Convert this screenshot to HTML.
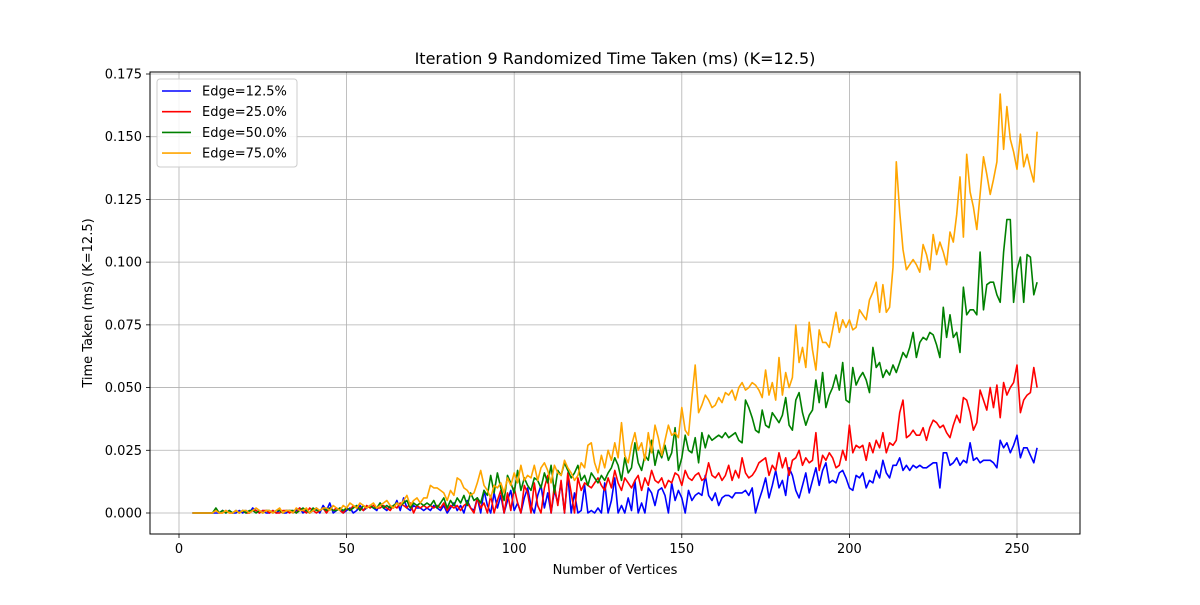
<!DOCTYPE html>
<html><head><meta charset="utf-8"><style>
body{margin:0;background:#fff;}
svg text{font-family:"DejaVu Sans","Liberation Sans",sans-serif;fill:#000;}
</style></head><body>
<svg id="chart" width="1200" height="600" xmlns="http://www.w3.org/2000/svg">
<rect width="1200" height="600" fill="#fff"/>
<g id="grid"></g><g id="series"></g><g id="axes"></g><g id="legend"></g>
</svg>
<script>
const xStart = 4;
const blue = [0,0,0,0,0,0,0,0,0,1, 0,1,0,0,1,0,1,0,2,1, 0,1,0,0,1,0,1,0,0,1, 0,1,2,0,1,0,1,2,0,3, 1,4,0,1,2,0,1,2,0,1, 3,1,2,3,2,1,4,2,1,3, 2,5,1,6,2,1,3,2,2,1, 2,1,3,2,1,3,0,2,4,1, 3,0,5,2,1,6,0,9,3,0, 8,2,7,0,5,9,1,4,0,6, 10,3,0,7,11,2,8,0,9,4, 12,0,15,0,8,0,1,11,0,1, 0,2,0,12,0,5,14,0,3,0, 6,1,13,0,4,0,10,8,3,9, 10,7,0,12,5,9,6,0,9,5, 7,8,7,15,7,5,8,3,6,7, 7,6,8,8,8,9,7,10,0,5, 9,14,6,11,17,10,13,7,18,15, 9,6,11,16,8,13,18,11,17,20, 12,13,12,16,17,14,10,9,15,14, 16,10,13,12,17,14,21,16,14,19, 19,22,17,19,17,19,18,19,18,18, 19,20,20,10,24,24,19,20,22,19, 21,20,28,21,22,20,21,21,21,20, 18,29,26,28,24,27,31,22,26,26, 23,20,26];
const red = [0,0,0,0,0,0,0,1,0,0, 1,0,0,1,0,1,0,0,1,1, 0,1,1,0,1,0,0,1,1,0, 1,0,2,1,0,2,1,0,1,2, 0,2,1,2,1,0,2,1,3,2, 2,1,3,2,3,2,2,3,2,1, 3,2,4,3,2,4,0,3,2,3, 2,3,2,3,2,4,1,3,2,3, 1,3,4,2,0,6,2,4,0,7, 0,5,9,0,8,1,10,4,0,11, 8,0,12,3,0,10,15,0,11,3, 13,0,16,8,0,14,9,12,11,10, 12,14,11,9,14,10,17,12,9,14, 12,10,13,15,9,14,11,17,13,12, 14,10,13,12,16,15,11,17,14,13, 15,16,13,14,20,15,14,16,13,15, 19,13,17,14,22,16,14,15,17,20, 21,22,15,19,17,24,18,22,15,21, 22,25,19,22,20,21,32,17,23,21, 24,22,18,19,25,21,35,24,27,26, 27,21,28,24,29,26,32,24,28,27, 29,40,45,30,31,33,31,31,34,29, 34,37,36,34,35,32,30,35,39,36, 46,45,40,33,36,49,45,41,50,42, 51,38,52,47,50,52,59,40,45,47, 48,58,50];
const green = [0,0,0,0,0,0,0,2,0,1, 0,1,0,1,0,1,0,1,1,0, 1,0,1,1,0,1,1,0,1,1, 1,0,1,2,1,0,2,1,1,2, 1,2,1,1,2,1,2,1,2,3, 1,3,2,3,2,2,4,2,3,2, 3,4,3,4,5,2,4,3,4,3, 4,3,5,2,4,6,2,5,3,6, 4,7,3,8,5,6,4,9,7,15, 8,16,10,5,15,12,8,17,9,14, 11,9,14,13,10,16,12,19,8,17, 15,20,17,14,16,19,13,15,11,16, 14,12,15,13,16,18,22,19,13,22, 16,18,28,20,17,23,21,29,19,25, 22,27,21,24,34,17,22,31,25,24, 30,20,32,26,31,29,30,31,30,32, 30,31,32,29,28,45,42,38,33,32, 41,35,34,40,38,36,39,46,35,33, 45,48,40,35,39,41,53,44,56,42, 47,50,55,49,60,45,44,58,51,54, 56,53,48,66,58,60,54,57,55,59, 56,60,64,62,66,72,62,68,70,69, 72,71,67,62,82,70,79,70,72,64, 90,79,81,81,79,104,81,91,92,92, 87,84,104,117,117,84,97,102,84,103, 102,87,92];
const orange = [0,0,0,0,0,0,0,1,0,0, 1,0,0,1,0,1,1,0,1,2, 1,0,1,1,0,1,2,0,1,1, 0,2,1,1,2,0,1,2,1,2, 2,1,3,2,1,3,2,4,3,2, 4,3,2,3,4,2,3,4,5,3, 2,4,3,5,7,3,5,6,4,6, 6,11,10,10,9,8,5,9,7,14, 13,10,9,7,8,12,17,11,9,6, 11,10,12,8,14,11,16,12,19,13, 15,14,19,13,18,20,17,12,19,16, 15,21,18,16,13,15,20,18,27,28, 20,16,23,18,25,21,28,22,36,23, 20,27,32,25,28,21,32,24,35,30, 23,29,35,31,32,30,42,33,31,46, 59,40,43,47,45,42,43,46,44,48, 47,49,45,50,52,49,50,52,51,49, 46,57,47,52,45,62,47,56,50,54, 75,60,66,58,76,65,57,73,68,68, 66,73,80,72,77,74,77,73,74,81, 79,77,85,88,92,80,91,80,82,98, 140,120,105,97,99,101,99,96,107,103, 97,111,103,108,104,99,112,108,119,134, 110,143,128,122,113,127,142,135,127,133, 140,167,145,162,149,144,137,151,138,143, 137,132,152];
const seriesNames = ["Edge=12.5%","Edge=25.0%","Edge=50.0%","Edge=75.0%"];
const seriesColors = ["blue","red","green","orange"];
const xTicks = [0,50,100,150,200,250];
const yTicks = [0,0.025,0.05,0.075,0.1,0.125,0.15,0.175];

const L=150,R=1080,T=72,B=534;
const sx = v => 179 + v*(1017-179)/250;
const sy = v => 513 - v*(513-74)/0.175;
const NS="http://www.w3.org/2000/svg";
function mk(tag, attrs, parent){const e=document.createElementNS(NS,tag);for(const k in attrs)e.setAttribute(k,attrs[k]);parent.appendChild(e);return e;}
const grid=document.getElementById('grid'), axes=document.getElementById('axes'), ser=document.getElementById('series'), leg=document.getElementById('legend');

xTicks.forEach(t=>{
  const g=mk('line',{x1:sx(t),x2:sx(t),y1:T,y2:B,stroke:'#b0b0b0','stroke-width':0.8},grid);
  
  
  mk('line',{x1:sx(t),x2:sx(t),y1:B,y2:B+4,stroke:'#000','stroke-width':0.8},axes);
  const tx=mk('text',{x:sx(t),y:B+19,'text-anchor':'middle','font-size':13},axes);
  tx.textContent=String(t);
  
  
});
yTicks.forEach(t=>{
  const g=mk('line',{x1:L,x2:R,y1:sy(t),y2:sy(t),stroke:'#b0b0b0','stroke-width':0.8},grid);
  
  
  mk('line',{x1:L-4,x2:L,y1:sy(t),y2:sy(t),stroke:'#000','stroke-width':0.8},axes);
  const tx=mk('text',{x:L-8,y:sy(t)+4.5,'text-anchor':'end','font-size':13},axes);
  tx.textContent=t.toFixed(3);
  
  
});
const frame=mk('rect',{x:L,y:T,width:R-L,height:B-T,fill:'none',stroke:'#000','stroke-width':1},axes);



const title=mk('text',{x:615,y:64,'text-anchor':'middle','font-size':16},axes);
title.textContent='Iteration 9 Randomized Time Taken (ms) (K=12.5)';


const xl=mk('text',{x:615,y:574,'text-anchor':'middle','font-size':13},axes);
xl.textContent='Number of Vertices';


const yl=mk('text',{x:0,y:0,'text-anchor':'middle','font-size':13,transform:'translate(92,303) rotate(-90)'},axes);
yl.textContent='Time Taken (ms) (K=12.5)';



[blue,red,green,orange].forEach((arr,i)=>{
  const pts=arr.map((v,j)=>sx(xStart+j).toFixed(1)+','+sy(v/1000).toFixed(1)).join(' ');
  const p=mk('polyline',{points:pts,fill:'none',stroke:seriesColors[i],'stroke-width':1.6,'stroke-linejoin':'round'},ser);
  
  
});

const box=mk('rect',{x:157,y:79,width:140,height:88,rx:3,fill:'#fff','fill-opacity':0.85,stroke:'#ccc','stroke-width':1},leg);


seriesNames.forEach((n,i)=>{
  const y=91+i*20.7;
  const ln=mk('line',{x1:162,x2:191,y1:y,y2:y,stroke:seriesColors[i],'stroke-width':1.6},leg);
  
  
  const t=mk('text',{x:202,y:y+4.5,'font-size':13},leg);
  t.textContent=n;
  
  
});
</script>
</body></html>
